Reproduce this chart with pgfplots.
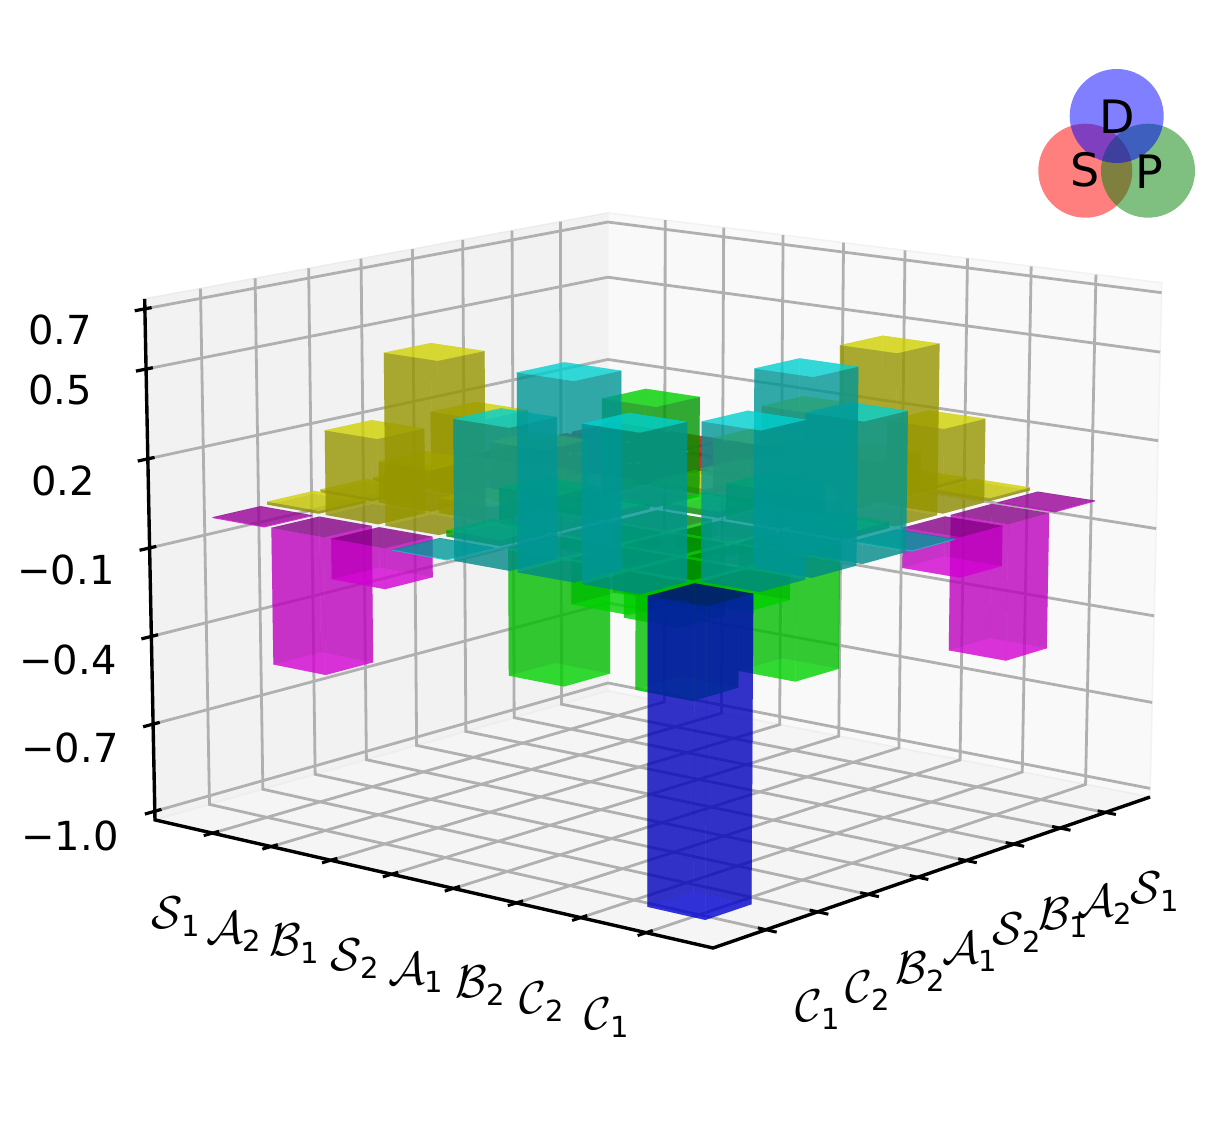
\documentclass[border=0pt]{standalone}
\usepackage{fontspec}
\setmainfont{DejaVu Sans}
\usepackage{pgfplots}
\usepackage{pgfplotstable}
\pgfplotsset{compat=1.18}
% bar heights: rows b = 0..7, columns a = 0..7 (S1 A2 B1 S2 A1 B2 C2 C1)
\pgfplotstableread{
c0 c1 c2 c3 c4 c5 c6 c7
0.01 0.01 0.01 0.01 0.01 0.01 0.01 -0.003
0.01 0.01 0.01 0.02 0.27 0.14 0.285 -0.46
0.01 0.01 0.01 0.02 0.20 0.05 0.575 -0.135
0.01 0.02 0.02 0.34 0.02 0.12 0.02 -0.003
0.01 0.27 0.20 0.02 -0.24 -0.05 -0.425 0.46
0.01 0.14 0.05 0.12 -0.05 -0.24 -0.15 0.64
0.01 0.285 0.575 0.02 -0.425 -0.15 -0.39 0.51
-0.003 -0.46 -0.135 -0.003 0.46 0.64 0.51 -1.0
}\barz
\definecolor{c00}{rgb}{1,0,0}\definecolor{c01}{rgb}{1,1,0}\definecolor{c10}{rgb}{1,1,0}
\definecolor{c02}{rgb}{1,0,1}\definecolor{c20}{rgb}{1,0,1}\definecolor{c11}{rgb}{0,1,0}
\definecolor{c12}{rgb}{0,1,1}\definecolor{c21}{rgb}{0,1,1}\definecolor{c22}{rgb}{0,0,1}
\definecolor{gridc}{RGB}{176,176,176}
\newcommand\blk[1]{\ifcase#1 0\or 0\or 0\or 1\or 1\or 1\or 1\or 2\fi}
% projective map: u,v in tick units (box 0..9), z in data units
\newcommand\proj[4]{%
 \pgfmathsetmacro\Pu{#2/9}\pgfmathsetmacro\Pv{#3/9}\pgfmathsetmacro\Pw{#4+1.03}%
 \pgfmathsetmacro\Pd{1-0.07296*\Pu-0.08581*\Pv-0.0114*\Pw}%
 \pgfmathsetmacro\Px{(608+458.1*\Pu-466.3*\Pv-7*\Pw)/\Pd}%
 \pgfmathsetmacro\Py{1138-(691+47.9*\Pu+58.6*\Pv-273.6*\Pw)/\Pd}%
 \expandafter\edef\csname #1\endcsname{(\Px,\Py)}}
\newcommand\face[5]{%
 \edef\tmp{\noexpand\addplot[forget plot,draw=none,fill=\cn!#1!black,fill opacity=0.55]
  coordinates {\csname #2\endcsname\csname #3\endcsname\csname #4\endcsname\csname #5\endcsname};}\tmp}
\newcommand\drawbar[2]{%
 \pgfplotstablegetelem{#2}{c#1}\of\barz\let\zz\pgfplotsretval
 \edef\cn{c\blk{#1}\blk{#2}}%
 \pgfmathsetmacro\uo{#1+1-0.44}\pgfmathsetmacro\ui{#1+1+0.44}%
 \pgfmathsetmacro\vo{#2+1-0.44}\pgfmathsetmacro\vi{#2+1+0.44}%
 \proj{aoo}{\uo}{\vo}{0}\proj{aio}{\ui}{\vo}{0}\proj{aii}{\ui}{\vi}{0}\proj{aoi}{\uo}{\vi}{0}%
 \proj{too}{\uo}{\vo}{\zz}\proj{tio}{\ui}{\vo}{\zz}\proj{tii}{\ui}{\vi}{\zz}\proj{toi}{\uo}{\vi}{\zz}%
 \ifdim\zz pt<0pt
  \face{100}{too}{tio}{tii}{toi}%
  \face{74}{aoo}{aoi}{toi}{too}\face{74}{aoo}{aio}{tio}{too}%
  \face{74}{aio}{aii}{tii}{tio}\face{74}{aoi}{aii}{tii}{toi}%
  \face{42}{aoo}{aio}{aii}{aoi}%
 \else
  \face{42}{aoo}{aio}{aii}{aoi}%
  \face{59}{aoo}{aoi}{toi}{too}\face{59}{aoo}{aio}{tio}{too}%
  \face{59}{aio}{aii}{tii}{tio}\face{59}{aoi}{aii}{tii}{toi}%
  \face{92}{too}{tio}{tii}{toi}%
 \fi}
\newcommand\lineplot[2]{%
 \edef\tmp{\noexpand\addplot[forget plot,#1] coordinates {#2};}\tmp}
\newcommand\fs[1]{\fontsize{#1}{#1}\selectfont}
\newcommand\tl[2]{\scalebox{1.85}{$\mathcal{#1}$}\kern-1pt\raisebox{-8pt}{\fs{29}#2}}
\newcommand\numnode[3]{\pgfmathsetmacro\yy{1138-#2}%
 \edef\tmp{\noexpand\node[font=\noexpand\fs{40}] at (axis cs:#1,\yy) {#3};}\tmp}
\newcommand\labnode[4]{\pgfmathsetmacro\yy{1138-#2}%
 \edef\tmp{\noexpand\node[font=\noexpand\fs{24.88},inner sep=0pt] at (axis cs:#1,\yy) {\noexpand\tl{#3}{#4}};}\tmp}
\begin{document}
\begin{tikzpicture}
\useasboundingbox (0,0) rectangle (1211pt,1138pt);
\begin{axis}[at={(0,0)},anchor=south west,scale only axis,width=1211pt,height=1138pt,
 xmin=0,xmax=1211,ymin=0,ymax=1138,hide axis,clip=false]
% panes
\proj{Bf}{0}{0}{-1.03}\proj{Lf}{0}{9}{-1.03}\proj{Rf}{9}{0}{-1.03}\proj{Ff}{9}{9}{-1.03}
\proj{Bt}{0}{0}{0.733}\proj{Lt}{0}{9}{0.733}\proj{Rt}{9}{0}{0.733}
\lineplot{fill={rgb,255:red,242;green,242;blue,242},draw={rgb,255:red,236;green,236;blue,236},line width=1.5pt}{\Bf\Lf\Lt\Bt\Bf}
\lineplot{fill={rgb,255:red,249;green,249;blue,249},draw={rgb,255:red,242;green,242;blue,242},line width=1.5pt}{\Bf\Rf\Rt\Bt\Bf}
\lineplot{fill={rgb,255:red,245;green,245;blue,245},draw={rgb,255:red,238;green,238;blue,238},line width=1.5pt}{\Bf\Lf\Ff\Rf\Bf}
% grid
\foreach \t in {1,...,8}{
 \proj{ga}{\t}{9}{-1.03}\proj{gb}{\t}{0}{-1.03}\proj{gc}{\t}{0}{0.733}
 \lineplot{draw=gridc,line width=2.8pt}{\ga\gb\gc}
 \proj{ga}{9}{\t}{-1.03}\proj{gb}{0}{\t}{-1.03}\proj{gc}{0}{\t}{0.733}
 \lineplot{draw=gridc,line width=2.8pt}{\ga\gb\gc}
}
\foreach \z in {-1.0,-0.7,-0.4,-0.1,0.2,0.5,0.7}{
 \proj{ga}{0}{9}{\z}\proj{gb}{0}{0}{\z}\proj{gc}{9}{0}{\z}
 \lineplot{draw=gridc,line width=2.8pt}{\ga\gb\gc}
 \proj{ta}{0}{9.18}{\z}\proj{tb}{0}{8.88}{\z}
 \lineplot{draw=black,line width=3.2pt}{\ta\tb}
}
% axes
\lineplot{draw=black,line width=3.4pt}{\Lt\Lf\Ff\Rf}
\foreach \t in {1,...,8}{
 \proj{ta}{\t}{9.16}{-1.03}\proj{tb}{\t}{8.88}{-1.03}
 \lineplot{draw=black,line width=3pt}{\ta\tb}
 \proj{ta}{9.16}{\t}{-1.03}\proj{tb}{8.88}{\t}{-1.03}
 \lineplot{draw=black,line width=3pt}{\ta\tb}
}
% bars
\foreach \b in {0,...,7}{\foreach \a in {0,...,7}{\drawbar{\a}{\b}}}
% text
\numnode{60}{330}{0.7}\numnode{60}{390}{0.5}\numnode{63}{481}{0.2}\numnode{66}{570}{−0.1}
\numnode{68}{660}{−0.4}\numnode{70}{748}{−0.7}\numnode{70}{836}{−1.0}
\labnode{176}{917}{S}{1}\labnode{234}{932}{A}{2}\labnode{294}{944}{B}{1}\labnode{355}{959}{S}{2}
\labnode{416}{973}{A}{1}\labnode{480}{986}{B}{2}\labnode{542}{1002}{C}{2}\labnode{607}{1018}{C}{1}
\labnode{1155}{892}{S}{1}\labnode{1105}{905}{A}{2}\labnode{1063}{918}{B}{1}\labnode{1017}{933}{S}{2}
\labnode{970}{952}{A}{1}\labnode{920}{972}{B}{2}\labnode{868}{991}{C}{2}\labnode{818}{1010}{C}{1}
% S D P circles
\fill[red,fill opacity=0.5] (axis cs:1085.3,967.3) circle[radius=47pt];
\fill[green!50!black,fill opacity=0.5] (axis cs:1148,967.3) circle[radius=47pt];
\fill[blue,fill opacity=0.5] (axis cs:1116.7,1022) circle[radius=47pt];
\node[font=\fs{46}] at (axis cs:1117,1021) {D};
\node[font=\fs{46}] at (axis cs:1085,968) {S};
\node[font=\fs{46}] at (axis cs:1149,966) {P};
\end{axis}
\end{tikzpicture}
\end{document}
